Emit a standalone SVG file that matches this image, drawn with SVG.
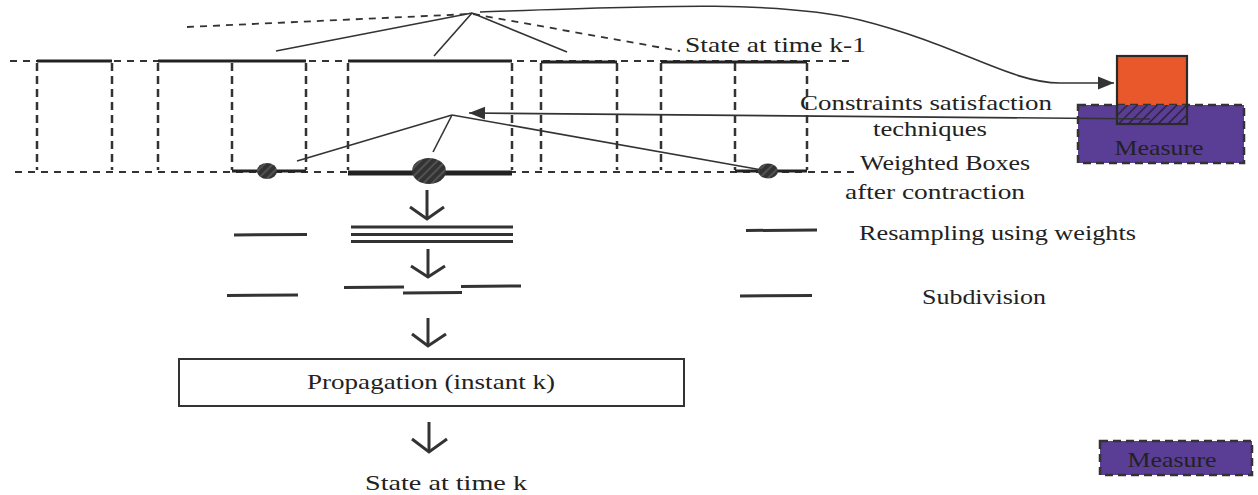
<svg xmlns="http://www.w3.org/2000/svg" width="1258" height="495" viewBox="0 0 1258 495">
<style>
text{font-family:'Liberation Serif','DejaVu Serif',serif;font-size:22px;fill:#222}
.hd{stroke:#333;stroke-width:1.8;stroke-dasharray:7 6;fill:none}
.vd{stroke:#333;stroke-width:2.5;stroke-dasharray:8 5;fill:none}
.bar{stroke:#222;stroke-width:3;fill:none}
.ln{stroke:#333;stroke-width:1.6;fill:none}
.seg{stroke:#333;stroke-width:3;fill:none}
.chev{stroke:#333;stroke-width:3;fill:none;stroke-linejoin:miter}
.meas{fill:#5a3d94;stroke:#333;stroke-width:2.5;stroke-dasharray:8 5}
</style>
<defs>
<marker id="ah2" viewBox="0 0 10 10" refX="10" refY="5" markerWidth="22" markerHeight="16" markerUnits="userSpaceOnUse" orient="auto">
<path d="M0,1 L10,5 L0,9 Z" fill="#333"/>
</marker>
<pattern id="hatchE" patternUnits="userSpaceOnUse" width="6" height="6" patternTransform="rotate(45)">
<rect width="6" height="6" fill="#333"/>
<line x1="3" y1="0" x2="3" y2="6" stroke="#666" stroke-width="1.2"/>
</pattern>
<pattern id="hatchM" patternUnits="userSpaceOnUse" width="7" height="7" patternTransform="rotate(45)">
<rect width="7" height="7" fill="#5a3d94"/>
<line x1="3.5" y1="0" x2="3.5" y2="7" stroke="#222" stroke-width="1.3"/>
</pattern>
</defs>

<g id="grid">
<line class="hd" x1="10" y1="61" x2="850" y2="61"/>
<line class="hd" x1="15" y1="172" x2="858" y2="172"/>
</g>

<g id="box1">
<line class="vd" x1="37" y1="63" x2="37" y2="170"/>
<line class="vd" x1="112" y1="63" x2="112" y2="170"/>
<line class="bar" x1="37" y1="61" x2="112" y2="61"/>
</g>
<g id="box2">
<line class="vd" x1="158" y1="63" x2="158" y2="170"/>
<line class="vd" x1="232" y1="63" x2="232" y2="170"/>
<line class="vd" x1="306" y1="63" x2="306" y2="170"/>
<line class="bar" x1="158" y1="61" x2="306" y2="61"/>
<line class="bar" x1="232" y1="171" x2="306" y2="171"/>
<ellipse cx="267" cy="171" rx="10" ry="8" fill="url(#hatchE)"/>
</g>
<g id="box3">
<line class="vd" x1="348" y1="63" x2="348" y2="170"/>
<line class="vd" x1="512" y1="63" x2="512" y2="170"/>
<line class="bar" x1="348" y1="61" x2="512" y2="61"/>
<line stroke="#222" stroke-width="5" x1="348" y1="173" x2="512" y2="173"/>
<ellipse cx="429" cy="171" rx="17" ry="13" fill="url(#hatchE)"/>
</g>
<g id="box4">
<line class="vd" x1="541" y1="63" x2="541" y2="170"/>
<line class="vd" x1="617" y1="63" x2="617" y2="170"/>
<line class="bar" x1="541" y1="62" x2="617" y2="62"/>
</g>
<g id="box5">
<line class="vd" x1="661" y1="63" x2="661" y2="170"/>
<line class="vd" x1="735" y1="63" x2="735" y2="170"/>
<line class="vd" x1="807" y1="63" x2="807" y2="170"/>
<line class="bar" x1="661" y1="62" x2="807" y2="62"/>
<line class="bar" x1="735" y1="171" x2="807" y2="171"/>
<ellipse cx="768" cy="171" rx="10" ry="7.5" fill="url(#hatchE)"/>
</g>

<g id="resample">
<line class="seg" x1="234" y1="235" x2="307" y2="234.5"/>
<line class="seg" x1="351" y1="227" x2="513" y2="227"/>
<line class="seg" x1="351" y1="234.5" x2="513" y2="234.5"/>
<line class="seg" x1="351" y1="241.5" x2="513" y2="241.5"/>
<line class="seg" x1="746" y1="230.5" x2="817" y2="230"/>
</g>
<g id="subdiv">
<line class="seg" x1="227" y1="295.5" x2="298" y2="295"/>
<line class="seg" x1="344" y1="287.5" x2="404" y2="287"/>
<line class="seg" x1="403" y1="293" x2="462" y2="292.5"/>
<line class="seg" x1="461" y1="286.5" x2="521" y2="286"/>
<line class="seg" x1="740" y1="296" x2="812" y2="295.5"/>
</g>

<g id="propagation">
<rect x="179" y="359" width="505" height="47" fill="#fff" stroke="#333" stroke-width="2"/>
<text x="431" y="389" text-anchor="middle" textLength="248" lengthAdjust="spacingAndGlyphs">Propagation (instant k)</text>
</g>

<g id="measure">
<rect x="1117" y="56" width="70" height="68" fill="#e8582a"/>
<rect class="meas" x="1078" y="105" width="166" height="58"/>
<rect x="1117" y="105" width="70" height="19" fill="url(#hatchM)"/>
<rect x="1117" y="56" width="70" height="68" fill="none" stroke="#2a2a2a" stroke-width="2.2"/>
<text x="1159" y="155" text-anchor="middle" textLength="89" lengthAdjust="spacingAndGlyphs">Measure</text>
</g>

<g id="legend">
<rect class="meas" x="1100" y="441" width="152" height="34"/>
<text x="1172" y="467" text-anchor="middle" textLength="89" lengthAdjust="spacingAndGlyphs">Measure</text>
</g>

<g id="connectors">
<line class="hd" x1="187" y1="27" x2="470" y2="14"/>
<line class="hd" x1="473" y1="14" x2="680" y2="51"/>
<line class="ln" x1="472" y1="13" x2="276" y2="51"/>
<line class="ln" x1="472" y1="13" x2="434" y2="56"/>
<line class="ln" x1="472" y1="13" x2="567" y2="52"/>
<path class="ln" d="M480,12 C650,6 780,0 860,20 C960,45 1010,83 1060,83 L1114,83" marker-end="url(#ah2)"/>
<line class="ln" x1="1150" y1="119" x2="469" y2="113" marker-end="url(#ah2)"/>
<line class="ln" x1="452" y1="115" x2="297" y2="161"/>
<line class="ln" x1="452" y1="115" x2="433" y2="152"/>
<line class="ln" x1="452" y1="115" x2="762" y2="170"/>
<line class="chev" x1="427" y1="190" x2="427" y2="219"/>
<polyline class="chev" points="410,207 427,219 444,207"/>
<line class="chev" x1="428" y1="249" x2="428" y2="277"/>
<polyline class="chev" points="411,266 428,277 445,266"/>
<line class="chev" x1="428" y1="318" x2="428" y2="346"/>
<polyline class="chev" points="412,334 428,346 446,334"/>
<line class="chev" x1="429" y1="422" x2="429" y2="452"/>
<polyline class="chev" points="412,439 429,452 447,439"/>
</g>

<g id="labels">
<text x="685" y="52" textLength="181" lengthAdjust="spacingAndGlyphs">State at time k-1</text>
<text x="800" y="110" textLength="252" lengthAdjust="spacingAndGlyphs">Constraints satisfaction</text>
<text x="873" y="136" textLength="114" lengthAdjust="spacingAndGlyphs">techniques</text>
<text x="860" y="170" textLength="170" lengthAdjust="spacingAndGlyphs">Weighted Boxes</text>
<text x="845" y="199" textLength="180" lengthAdjust="spacingAndGlyphs">after contraction</text>
<text x="859" y="240" textLength="277" lengthAdjust="spacingAndGlyphs">Resampling using weights</text>
<text x="922" y="304" textLength="124" lengthAdjust="spacingAndGlyphs">Subdivision</text>
<text x="446" y="490" text-anchor="middle" textLength="162" lengthAdjust="spacingAndGlyphs">State at time k</text>
</g>
</svg>
